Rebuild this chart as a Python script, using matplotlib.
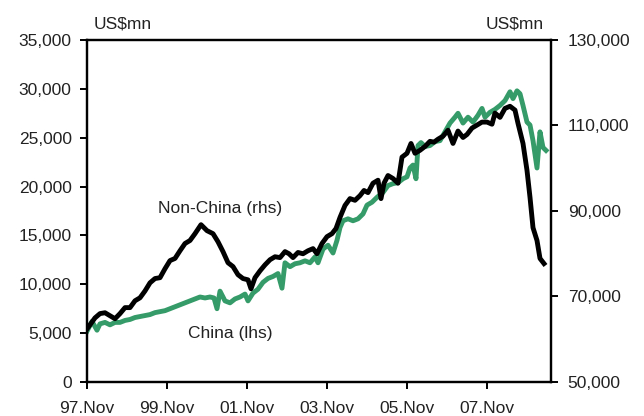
import matplotlib.pyplot as plt

plt.rcParams['font.family'] = ['Liberation Sans', 'DejaVu Sans']

# months since Nov 1997
china_months = [0, 1.5, 3, 3.9, 5.4, 6.9, 8.4, 9.9, 11.4, 12.9, 14.4, 15.9, 17.4, 18.9,
                20.4, 21.9, 23.4, 24.9, 26.4, 27.9, 29.4, 30.9, 32.4, 33.9, 35.4, 36.9,
                38.1, 39, 39.9, 41.4, 42.9, 44.4, 45.9, 47.4, 48.3, 49.8, 51.3, 52.8,
                54.3, 55.8, 57.3, 58.5, 59.4, 60.9, 62.4, 63.9, 65.4, 66.9, 68.4, 69.3,
                70.8, 72.3, 73.8, 75, 75.9, 76.8, 78.3, 79.8, 81.3, 82.8, 84, 85.5, 87,
                88.8, 90.3, 91.8, 93.3, 94.8, 96, 96.9, 97.8, 98.7, 99.3, 100.2, 101.4,
                102.9, 104.4, 105.9, 107.4, 108.9, 110.4, 111.3, 112.8, 114.3, 115.8,
                117.3, 118.5, 119.4, 120.9, 122.4, 123.9, 125.4, 126.9, 127.8, 129,
                129.9, 130.8, 132, 132.9, 133.8, 135, 135.9, 136.8, 137.7]
china = [5200, 6200, 5300, 5950, 6100, 5850, 6100, 6100, 6300, 6400, 6600, 6700, 6800, 6900,
         7100, 7200, 7300, 7500, 7700, 7900, 8100, 8300, 8500, 8700, 8600, 8700,
         8600, 7500, 9300, 8300, 8100, 8500, 8700, 9000, 8300, 9100, 9500, 10200,
         10600, 10800, 11100, 9600, 12200, 11800, 12100, 12200, 12400, 12200, 12800, 12200,
         13600, 14000, 13200, 14500, 15800, 16500, 16700, 16500, 16700, 17200, 18100, 18400, 18900,
         19400, 20100, 20300, 20400, 20800, 21000, 21900, 22200, 20800, 24200, 24500, 24100,
         24200, 24600, 24700, 25600, 26500, 27100, 27500, 26500, 27100, 26600,
         27300, 28000, 27100, 27600, 27900, 28300, 28800, 29700, 29000, 29800,
         29500, 28300, 26600, 26300, 24700, 21900, 25600, 24000, 23700]

non_china_months = [0, 2.4, 3.9, 5.4, 6.9, 8.4, 9.9, 11.4, 12.9, 14.4, 15.9, 17.4, 18.9,
                    20.4, 21.9, 23.4, 24.9, 26.4, 27.9, 29.4, 30.9, 32.4, 34.2, 36, 37.8,
                    39.3, 40.8, 42.3, 43.8, 45.3, 46.8, 48.3, 49.2, 50.4, 51.9, 53.4, 54.9,
                    56.4, 57.9, 59.4, 60.6, 61.8, 63.3, 64.8, 66.3, 67.8, 69, 70.5, 72,
                    73.5, 74.7, 75.9, 77.4, 78.9, 80.4, 81.9, 83.1, 84.3, 85.8, 87.3, 88.2,
                    89.1, 90.3, 91.8, 93.3, 94.5, 96, 97.2, 98.4, 99.9, 101.4, 102.9, 104.1,
                    105.3, 106.8, 108.3, 109.8, 111.3, 112.8, 114, 115.5, 117, 118.5, 120,
                    121.5, 122.4, 123.9, 125.4, 126.9, 128.4, 129.3, 130.8, 132, 132.9,
                    133.8, 135, 135.9, 137.1]
non_china = [62400, 65000, 66000, 66200, 65500, 64800, 66000, 67400, 67400, 69000, 69700, 71300, 73200,
             74200, 74400, 76500, 78400, 78900, 80700, 82400, 83100, 84700, 86800, 85400, 84700,
             82800, 80500, 77900, 77000, 75100, 74200, 73900, 71800, 74400, 76000, 77400, 78600,
             79300, 79100, 80500, 80000, 79100, 80300, 80000, 80700, 81200, 80000, 82400, 84000,
             84700, 85900, 88500, 91300, 92900, 92500, 93600, 94800, 94300, 96500, 97200, 92900,
             96500, 98300, 97600, 96500, 102600, 103500, 105800, 103500, 104200, 105100, 106300, 106100,
             106800, 107500, 108900, 105800, 108700, 107200, 107900, 109400, 110100, 110800, 110800,
             110300, 112900, 111900, 114000, 114500, 113600, 110500, 105800, 99500, 93200,
             86100, 83100, 78900, 77700]

tick_months = [0, 24, 48, 72, 96, 120]
tick_labels = ['97.Nov', '99.Nov', '01.Nov', '03.Nov', '05.Nov', '07.Nov']

fig = plt.figure(figsize=(6.44, 4.16), dpi=100)
ax = fig.add_axes([87 / 644, 34 / 416, 464 / 644, 342 / 416])
ax2 = ax.twinx()

ax.plot(china_months, china, color='#359b68', lw=3.5, solid_joinstyle='round')
ax2.plot(non_china_months, non_china, color='black', lw=3.5, solid_joinstyle='round')

ax.set_xlim(0, 139.2)
ax.set_ylim(0, 35000)
ax2.set_ylim(50000, 130000)
ax.set_yticks(range(0, 35001, 5000))
ax2.set_yticks(range(50000, 130001, 20000))
ax.yaxis.set_major_formatter(lambda v, p: f'{int(v):,}')
ax2.yaxis.set_major_formatter(lambda v, p: f'{int(v):,}')
ax.set_xticks(tick_months)
ax.set_xticklabels(tick_labels)

for a in (ax, ax2):
    for s in a.spines.values():
        s.set_linewidth(1.6)
    a.tick_params(direction='out', length=5, width=1.4, labelsize=12.5,
                  colors='black', labelcolor='#222222')
ax.tick_params(axis='y', pad=6)
ax2.tick_params(axis='y', pad=7)
ax.tick_params(axis='x', pad=9)

ax.text(0.014, 1.025, 'US$mn', transform=ax.transAxes, fontsize=12.5,
        color='#222222', ha='left', va='bottom')
ax2.text(0.985, 1.025, 'US$mn', transform=ax2.transAxes, fontsize=12.5,
         color='#222222', ha='right', va='bottom')
ax.text(40, 17800, 'Non-China (rhs)', fontsize=12.5, color='#222222', ha='center', va='center')
ax.text(43, 5000, 'China (lhs)', fontsize=12.5, color='#222222', ha='center', va='center')

fig.savefig('out.png', dpi=100)
